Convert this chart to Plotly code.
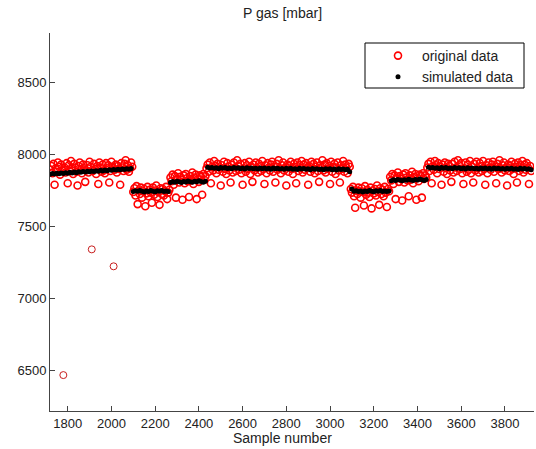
import plotly.graph_objects as go

# Sample numbers: measurements every 5th sample, model output every 10th
samples_orig = list(range(1720, 3921, 5))
samples_sim = list(range(1720, 3921, 10))

# Measured gas pressure [mbar]
p_original = [
    # 1720-2095
    7895, 7920, 7870, 7935, 7790, 7905, 7880, 7945, 7915, 7860,
    7930, 7890, 6465, 7910, 7875, 7940, 7800, 7925, 7885, 7955,
    7900, 7865, 7935, 7910, 7880, 7785, 7920, 7945, 7895, 7870,
    7930, 7905, 7810, 7890, 7925, 7875, 7950, 7915, 7340, 7885,
    7935, 7900, 7865, 7920, 7795, 7945, 7910, 7880, 7930, 7890,
    7870, 7940, 7905, 7925, 7805, 7885, 7950, 7915, 7222, 7895,
    7930, 7875, 7920, 7900, 7790, 7940, 7910, 7885, 7935, 7960,
    7895, 7925, 7880, 7905, 7945, 7915,
    # 2100-2265
    7740, 7765, 7715, 7780, 7655, 7750, 7725, 7770, 7700, 7745,
    7760, 7640, 7730, 7775, 7710, 7755, 7735, 7665, 7770, 7720,
    7750, 7785, 7705, 7740, 7650, 7765, 7725, 7760, 7715, 7745,
    7775, 7690, 7735, 7755,
    # 2270-2430
    7840, 7815, 7860, 7790, 7850, 7700, 7830, 7870, 7805, 7845,
    7825, 7685, 7855, 7800, 7865, 7835, 7815, 7705, 7850, 7820,
    7875, 7795, 7840, 7860, 7690, 7830, 7810, 7855, 7845, 7720,
    7865, 7825, 7850,
    # 2435-3090
    7905, 7930, 7880, 7945, 7800, 7915, 7890, 7955, 7920, 7870,
    7935, 7895, 7910, 7785, 7925, 7880, 7950, 7900, 7865, 7940,
    7915, 7890, 7805, 7930, 7875, 7945, 7910, 7885, 7960, 7920,
    7895, 7935, 7870, 7790, 7905, 7940, 7880, 7925, 7900, 7950,
    7865, 7915, 7810, 7930, 7890, 7945, 7905, 7875, 7935, 7920,
    7885, 7955, 7900, 7795, 7925, 7870, 7940, 7910, 7890, 7930,
    7950, 7880, 7915, 7805, 7935, 7895, 7960, 7905, 7870, 7925,
    7945, 7890, 7910, 7785, 7930, 7880, 7920, 7950, 7900, 7865,
    7935, 7915, 7800, 7945, 7885, 7925, 7905, 7955, 7875, 7930,
    7895, 7940, 7910, 7790, 7920, 7880, 7950, 7900, 7935, 7870,
    7915, 7945, 7885, 7810, 7925, 7905, 7960, 7890, 7930, 7875,
    7940, 7900, 7920, 7795, 7950, 7880, 7915, 7935, 7865, 7910,
    7945, 7890, 7805, 7925, 7900, 7955, 7880, 7930, 7910, 7870,
    7935, 7915,
    # 3095-3270
    7760, 7735, 7775, 7710, 7630, 7750, 7725, 7770, 7745, 7700,
    7765, 7740, 7645, 7780, 7720, 7755, 7735, 7705, 7770, 7625,
    7750, 7730, 7760, 7715, 7785, 7740, 7650, 7765, 7725, 7755,
    7710, 7775, 7735, 7635, 7760, 7745,
    # 3275-3440
    7845, 7820, 7865, 7795, 7855, 7690, 7835, 7875, 7810, 7850,
    7830, 7680, 7860, 7805, 7870, 7840, 7820, 7710, 7855, 7825,
    7880, 7800, 7845, 7865, 7685, 7835, 7815, 7860, 7850, 7700,
    7870, 7830, 7855, 7840,
    # 3445-3920
    7910, 7935, 7885, 7950, 7800, 7920, 7895, 7955, 7925, 7870,
    7940, 7900, 7915, 7790, 7930, 7880, 7945, 7905, 7865, 7935,
    7920, 7890, 7810, 7935, 7875, 7950, 7910, 7885, 7960, 7925,
    7900, 7940, 7870, 7795, 7905, 7945, 7880, 7930, 7895, 7955,
    7870, 7915, 7805, 7935, 7890, 7950, 7905, 7875, 7940, 7920,
    7885, 7955, 7900, 7790, 7925, 7870, 7945, 7910, 7895, 7930,
    7950, 7880, 7915, 7800, 7935, 7900, 7960, 7905, 7875, 7925,
    7945, 7890, 7910, 7785, 7930, 7885, 7920, 7950, 7900, 7865,
    7935, 7915, 7805, 7945, 7885, 7925, 7905, 7955, 7875, 7930,
    7895, 7940, 7910, 7795, 7920, 7885,
]

# Model output [mbar]
p_simulated = [
    # 1720-2090
    7862, 7868, 7864, 7870, 7866, 7872, 7868, 7874, 7870, 7876,
    7872, 7878, 7874, 7880, 7876, 7882, 7878, 7884, 7880, 7886,
    7882, 7888, 7884, 7890, 7886, 7892, 7888, 7894, 7890, 7896,
    7892, 7898, 7894, 7900, 7896, 7902, 7898, 7903,
    # 2100-2260
    7742, 7748, 7744, 7750, 7745, 7740, 7747, 7743, 7749, 7744,
    7741, 7748, 7745, 7750, 7743, 7746, 7742,
    # 2270-2430
    7805, 7812, 7808, 7815, 7810, 7806, 7813, 7809, 7816, 7811,
    7807, 7814, 7810, 7817, 7812, 7808, 7815,
    # 2440-3090
    7912, 7906, 7910, 7904, 7908, 7902, 7910, 7905, 7909, 7903,
    7907, 7901, 7909, 7904, 7908, 7902, 7906, 7900, 7908, 7903,
    7907, 7901, 7905, 7899, 7907, 7902, 7906, 7900, 7904, 7898,
    7906, 7901, 7905, 7899, 7903, 7897, 7905, 7900, 7904, 7898,
    7902, 7896, 7904, 7899, 7903, 7897, 7901, 7895, 7903, 7898,
    7902, 7896, 7900, 7894, 7902, 7897, 7901, 7895, 7899, 7893,
    7901, 7896, 7900, 7894, 7898, 7880,
    # 3100-3270
    7760, 7744, 7748, 7742, 7746, 7740, 7747, 7743, 7749, 7744,
    7741, 7748, 7745, 7750, 7743, 7746, 7742, 7747,
    # 3280-3440
    7818, 7824, 7820, 7827, 7822, 7818, 7825, 7821, 7828, 7823,
    7819, 7826, 7822, 7829, 7824, 7820, 7827,
    # 3450-3920
    7912, 7906, 7910, 7904, 7908, 7902, 7910, 7905, 7909, 7903,
    7907, 7901, 7909, 7904, 7908, 7902, 7906, 7900, 7908, 7903,
    7907, 7901, 7905, 7899, 7907, 7902, 7906, 7900, 7904, 7898,
    7906, 7901, 7905, 7899, 7903, 7897, 7905, 7900, 7904, 7898,
    7902, 7896, 7904, 7899, 7903, 7897, 7901, 7895,
]

x_ticks = [1800, 2000, 2200, 2400, 2600, 2800, 3000, 3200, 3400, 3600, 3800]
y_ticks = [6500, 7000, 7500, 8000, 8500]

FONT = "Liberation Sans"
TEXT = "#222222"
RED = "#ff0000"
W, H = 536, 449
L, R, T, B = 50, 2, 33, 38
PW, PH = W - L - R, H - T - B


def px(x):
    return (x - L) / PW


def py(y):
    return (H - B - y) / PH


# Dense band of readings gets a slightly heavier ring; the few isolated
# low readings keep a thin outline.
band_x = [s for s, v in zip(samples_orig, p_original) if v >= 7500]
band_y = [v for v in p_original if v >= 7500]
low_x = [s for s, v in zip(samples_orig, p_original) if v < 7500]
low_y = [v for v in p_original if v < 7500]

fig = go.Figure()
fig.add_trace(go.Scatter(
    x=band_x, y=band_y, mode="markers",
    name="\u00a0original data", legendgroup="orig",
    marker=dict(symbol="circle-open", size=7, color=RED,
                line=dict(width=1.6, color=RED)),
))
fig.add_trace(go.Scatter(
    x=low_x, y=low_y, mode="markers",
    name="\u00a0original data", legendgroup="orig", showlegend=False,
    marker=dict(symbol="circle-open", size=7, color="#c81e1e",
                line=dict(width=1, color="#c81e1e")),
))
fig.add_trace(go.Scatter(
    x=samples_sim, y=p_simulated, mode="markers",
    name="\u00a0simulated data",
    marker=dict(symbol="circle", size=5, color="black", line=dict(width=0)),
))

axis_common = dict(
    showline=True, linecolor="#444444", linewidth=1, mirror=False,
    ticks="inside", ticklen=5, tickcolor="#444444", tickwidth=1,
    showgrid=False, zeroline=False,
    tickfont=dict(family=FONT, size=13, color=TEXT),
)

fig.update_layout(
    width=W, height=H,
    margin=dict(l=L, r=R, t=T, b=B),
    paper_bgcolor="white", plot_bgcolor="white",
    font=dict(family=FONT, size=13, color=TEXT),
    xaxis=dict(range=[1719, 3933], tickvals=x_ticks, **axis_common),
    yaxis=dict(range=[6215, 8846], tickvals=y_ticks, **axis_common),
    legend=dict(
        x=px(378), y=py(40),
        xanchor="left", yanchor="top",
        bgcolor="rgba(0,0,0,0)", borderwidth=0,
        font=dict(family=FONT, size=14, color=TEXT),
        tracegroupgap=0, itemwidth=30,
    ),
    showlegend=True,
    shapes=[
        dict(type="rect", xref="paper", yref="paper",
             x0=px(365), x1=px(524), y0=py(88), y1=py(43),
             line=dict(color="black", width=1), fillcolor="white",
             layer="above"),
    ],
    annotations=[
        dict(text="P gas [mbar]", xref="paper", yref="paper",
             x=px(282), y=py(13), xanchor="center", yanchor="middle",
             showarrow=False, font=dict(family=FONT, size=14, color=TEXT)),
        dict(text="Sample number", xref="paper", yref="paper",
             x=px(282), y=py(438), xanchor="center", yanchor="middle",
             showarrow=False, font=dict(family=FONT, size=14, color=TEXT)),
    ],
)

fig.write_html("out.html")
